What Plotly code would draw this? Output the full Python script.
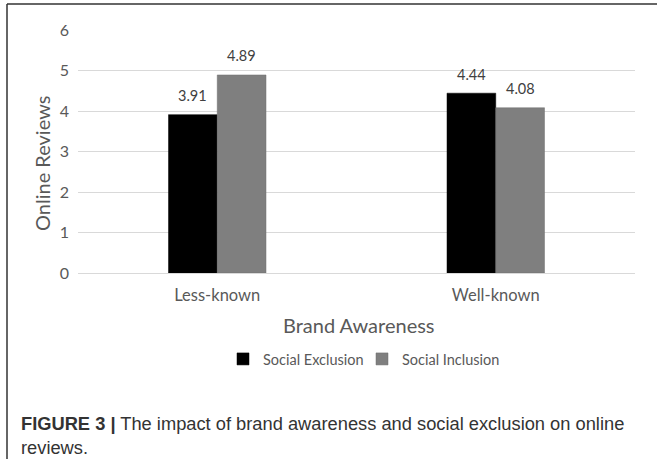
import plotly.graph_objects as go

categories = ["Less-known", "Well-known"]
exclusion = [3.91, 4.44]
inclusion = [4.89, 4.08]
series_names = ["Social Exclusion", "Social Inclusion"]
y_ticks = [0, 1, 2, 3, 4, 5, 6]

W, H = 657, 459
L, R, T, B = 78, 22, 30, 186
pw = W - L - R
ph = H - T - B

FONT = "Lato"

fig = go.Figure()
fig.add_trace(go.Bar(x=categories, y=exclusion, name=series_names[0],
                     marker=dict(color="#000000", line=dict(color="#000000", width=0.5))))
fig.add_trace(go.Bar(x=categories, y=inclusion, name=series_names[1],
                     marker=dict(color="#7f7f7f", line=dict(color="#6f6f6f", width=0.5))))

bar_px = pw / len(categories) * 0.35 / 2
annotations = []
for vals, sh in ((exclusion, -bar_px / 2), (inclusion, bar_px / 2)):
    for c, v in zip(categories, vals):
        annotations.append(dict(x=c, y=v, xref="x", yref="y", text=f"{v:.2f}",
                                showarrow=False, xshift=sh, yshift=19,
                                xanchor="center", yanchor="middle",
                                font=dict(family=FONT, size=14.5, color="#404040")))

# axis titles
annotations.append(dict(x=(42 - L) / pw, y=(T + ph - 164) / ph, xref="paper", yref="paper",
                        xanchor="center", yanchor="middle",
                        text="Online Reviews", textangle=-90, showarrow=False,
                        font=dict(family=FONT, size=20, color="#595959")))
annotations.append(dict(x=(359 - L) / pw, y=(T + ph - 325) / ph, xref="paper", yref="paper",
                        xanchor="center", yanchor="middle",
                        text="Brand Awareness", showarrow=False,
                        font=dict(family=FONT, size=20, color="#595959")))
# caption
annotations.append(dict(x=(19 - L) / pw, y=(T + ph - 411) / ph, xref="paper", yref="paper",
                        xanchor="left", yanchor="top", align="left",
                        text="<b>FIGURE 3 |</b> The impact of brand awareness and social exclusion on online<br>reviews.",
                        showarrow=False,
                        font=dict(family="Liberation Sans", size=18.3, color="#333333")))

shapes = [
    dict(type="line", xref="paper", yref="paper",
         x0=(7 - L) / pw, x1=(7 - L) / pw, y0=(T + ph - 4) / ph, y1=(T + ph - 470) / ph,
         line=dict(color="#333333", width=1.5)),
    dict(type="line", xref="paper", yref="paper",
         x0=(7 - L) / pw, x1=(670 - L) / pw, y0=(T + ph - 4) / ph, y1=(T + ph - 4) / ph,
         line=dict(color="#333333", width=1.5)),
]

fig.update_layout(
    width=W, height=H,
    margin=dict(l=L, r=R, t=T, b=B, pad=0),
    paper_bgcolor="white", plot_bgcolor="white",
    barmode="group", bargap=0.65, bargroupgap=0,
    font=dict(family=FONT, color="#595959"),
    showlegend=True,
    legend=dict(orientation="h", x=(362 - L) / pw, xanchor="center",
                y=(T + ph - 359) / ph, yanchor="middle",
                font=dict(family=FONT, size=14.5, color="#595959"),
                itemwidth=30, entrywidth=94, tracegroupgap=0, traceorder="normal"),
    annotations=annotations,
    shapes=shapes,
    xaxis=dict(showgrid=False, showline=False, zeroline=False,
               tickfont=dict(family=FONT, size=16.5, color="#595959"),
               ticks="", ticklabelstandoff=10),
    yaxis=dict(range=[0, 6], tickvals=y_ticks, showgrid=True, gridcolor="#d9d9d9",
               gridwidth=1, zeroline=True, zerolinecolor="#d9d9d9", zerolinewidth=1,
               showline=False, ticks="", ticklabelstandoff=8,
               tickfont=dict(family=FONT, size=16, color="#595959")),
)

fig.write_html("out.html")
